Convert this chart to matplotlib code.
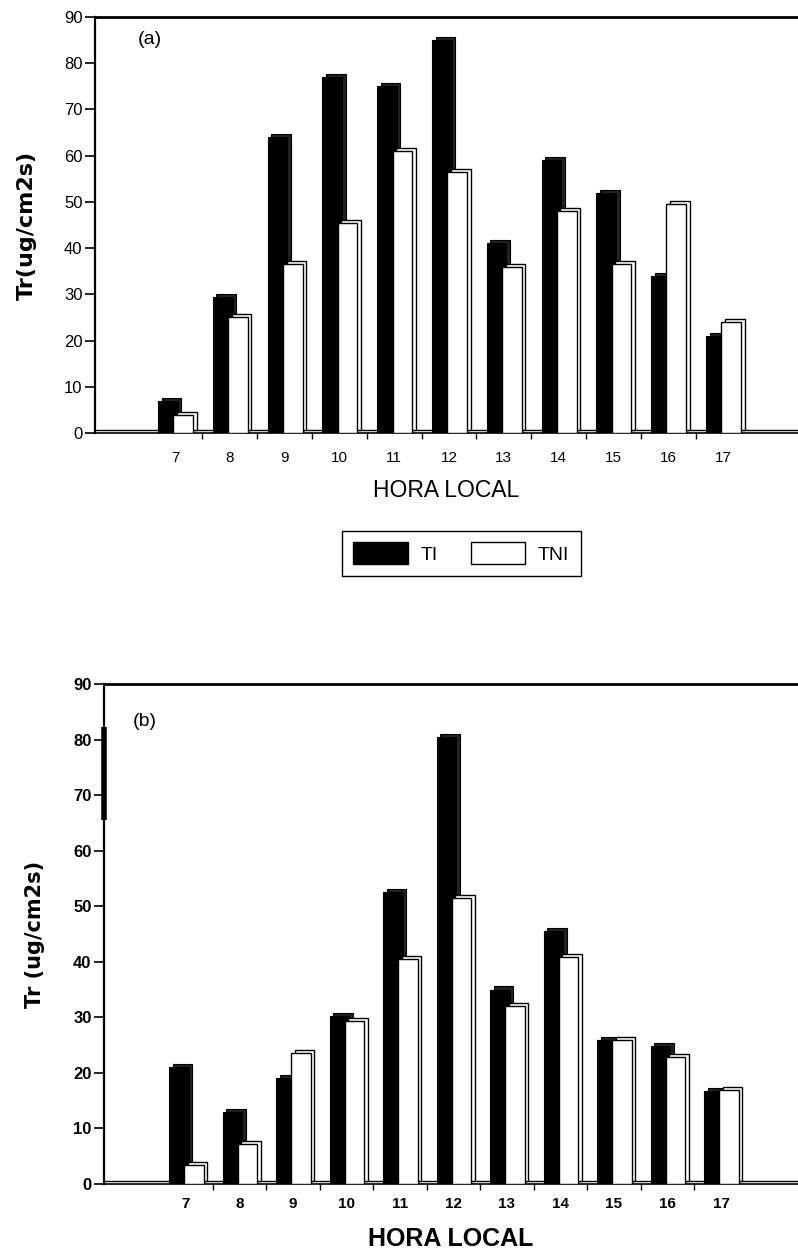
import numpy as np
import matplotlib
matplotlib.use("Agg")
import matplotlib.pyplot as plt
from matplotlib.patches import Rectangle, Patch

plt.rcParams['font.family'] = ['Liberation Sans', 'DejaVu Sans']

# datos
horas = [7, 8, 9, 10, 11, 12, 13, 14, 15, 16, 17]
ti_a = [7, 29.5, 64, 77, 75, 85, 41, 59, 52, 34, 21]
tni_a = [4, 25, 36.5, 45.5, 61, 56.5, 36, 48, 36.5, 49.5, 24]
ti_b = [21, 13, 19, 30.3, 52.5, 80.5, 35, 45.5, 26, 24.8, 16.8]
tni_b = [3.5, 7.2, 23.5, 29.3, 40.5, 51.5, 32, 40.8, 26, 22.8, 17]
yticks = [0, 10, 20, 30, 40, 50, 60, 70, 80, 90]

W, H = 798, 1252
fig = plt.figure(figsize=(W / 100, H / 100), dpi=100)


def barras_3d(ax, x, ti, tni, dy):
    w = 0.36
    dx = 0.065
    for xi, a, b in zip(x, ti, tni):
        x0 = xi - 0.31
        ax.add_patch(Rectangle((x0 + dx, dy), w, a, facecolor='#222222',
                               edgecolor='black', lw=0.8, zorder=2))
        ax.add_patch(Rectangle((x0, 0), w, a, facecolor='black',
                               edgecolor='black', lw=0.8, zorder=3))
        x1 = xi - 0.03
        ax.add_patch(Rectangle((x1 + dx, dy), w, b, facecolor='white',
                               edgecolor='black', lw=1.0, zorder=4))
        ax.add_patch(Rectangle((x1, 0), w, b, facecolor='white',
                               edgecolor='black', lw=1.0, zorder=5))


def preparar(ax, x, xlim, dy, bold, pad_x):
    ax.set_xlim(*xlim)
    ax.set_ylim(0, 90)
    ax.axhline(dy, color='black', lw=1.0, zorder=1)
    ax.spines['right'].set_visible(False)
    ax.spines['top'].set_linewidth(2.0)
    ax.spines['left'].set_linewidth(1.6)
    ax.spines['bottom'].set_linewidth(1.2)
    ax.set_yticks(yticks)
    ax.tick_params(axis='y', direction='out', length=7, width=1.2,
                   labelsize=12, pad=2)
    bordes = [xi + 0.5 for xi in x[:-1]]
    ax.set_xticks(bordes)
    ax.set_xticklabels([])
    ax.tick_params(axis='x', which='major', direction='out', length=4, width=1.0)
    ax.set_xticks(x, minor=True)
    ax.set_xticklabels([str(h) for h in x], minor=True)
    ax.tick_params(axis='x', which='minor', length=0, labelsize=11, pad=pad_x)
    peso = 'bold' if bold else 'normal'
    for lab in ax.get_yticklabels() + ax.get_xticklabels(minor=True):
        lab.set_fontweight(peso)


# (a)
ax1 = fig.add_axes([95 / W, 1 - 433 / H, (W - 95) / W, 416 / H])
barras_3d(ax1, horas, ti_a, tni_a, 0.65)
preparar(ax1, horas, (5.54, 18.37), 0.65, False, 13)
ax1.set_ylabel('Tr(ug/cm2s)', fontsize=16, fontweight='bold',
               family='DejaVu Sans')
ax1.yaxis.set_label_coords(-0.083, 0.5)
ax1.set_xlabel('HORA LOCAL', fontsize=16.5)
ax1.xaxis.set_label_coords(0.5, -0.11)
ax1.text(0.078, 0.945, '(a)', transform=ax1.transAxes, fontsize=14,
         ha='center', va='center')

fig.legend(handles=[Patch(facecolor='black', edgecolor='black', label='TI'),
                    Patch(facecolor='white', edgecolor='black', label='TNI')],
           loc='center', bbox_to_anchor=(0.578, 0.558), ncol=2, fontsize=14,
           frameon=True, fancybox=False, edgecolor='black', framealpha=1,
           handlelength=2.8, handleheight=1.35, handletextpad=0.65,
           columnspacing=1.7, borderpad=0.6)

# (b)
ax2 = fig.add_axes([104 / W, 1 - 1184 / H, (W - 104) / W, 500 / H])
barras_3d(ax2, horas, ti_b, tni_b, 0.55)
preparar(ax2, horas, (5.47, 18.44), 0.55, True, 9)
ax2.plot([5.47, 5.47], [65.6, 82.3], color='black', lw=4, zorder=6,
         clip_on=False, solid_capstyle='butt')
ax2.set_ylabel('Tr (ug/cm2s)', fontsize=15, fontweight='bold',
               family='DejaVu Sans')
ax2.yaxis.set_label_coords(-0.085, 0.5)
ax2.set_xlabel('HORA LOCAL', fontsize=18, fontweight='bold')
ax2.xaxis.set_label_coords(0.5, -0.086)
ax2.text(0.059, 0.924, '(b)', transform=ax2.transAxes, fontsize=14,
         ha='center', va='center')

fig.savefig('out.png', dpi=100)
